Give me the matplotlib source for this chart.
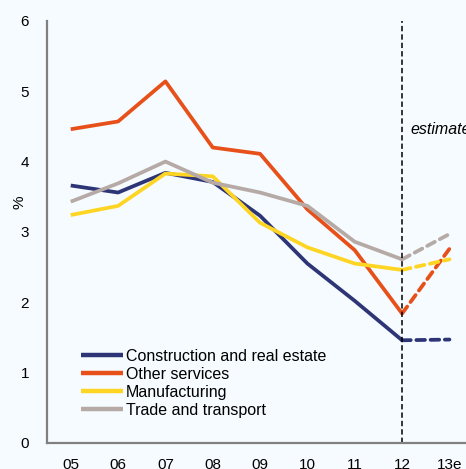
import matplotlib
matplotlib.use("Agg")
import matplotlib.pyplot as plt

years = ["05", "06", "07", "08", "09", "10", "11", "12", "13e"]
construction = [3.66, 3.56, 3.84, 3.71, 3.23, 2.55, 2.02, 1.46, 1.47]
other_services = [4.46, 4.57, 5.14, 4.20, 4.11, 3.32, 2.74, 1.84, 2.76]
manufacturing = [3.24, 3.37, 3.83, 3.79, 3.13, 2.78, 2.55, 2.46, 2.61]
trade_transport = [3.43, 3.69, 4.00, 3.70, 3.56, 3.37, 2.86, 2.61, 2.97]

series = [
    ("Construction and real estate", construction, "#2e3576"),
    ("Other services", other_services, "#e8501a"),
    ("Manufacturing", manufacturing, "#ffd523"),
    ("Trade and transport", trade_transport, "#b5aaa5"),
]

plt.rcParams["font.family"] = ["Liberation Sans", "DejaVu Sans"]
bg = "#f5fbfe"
fig = plt.figure(figsize=(4.66, 4.69), dpi=100, facecolor=bg)
ax = fig.add_axes([0.101, 0.0555, 0.899, 0.9], facecolor=bg)

x = list(range(len(years)))
split = 7
for label, vals, color in series:
    ax.plot(x[:split + 1], vals[:split + 1], color=color, lw=2.7, label=label,
            solid_capstyle="butt")
    ax.plot(x[split:], vals[split:], color=color, lw=2.7, ls=(0, (2.3, 1.5)),
            dash_capstyle="round")

ax.axvline(split, color="black", lw=1.1, ls=(0, (3.5, 2)))
ax.text(split + 0.17, 4.45, "estimate", style="italic", fontsize=11.5,
        va="center", ha="left", clip_on=False)

ax.set_xlim(-0.5, 8.35)
ax.set_ylim(0, 6)
ax.set_xticks(x)
ax.set_xticklabels(years)
ax.set_yticks(range(0, 7))
ax.tick_params(axis="both", length=0, labelsize=11)
ax.tick_params(axis="x", pad=11)
ax.tick_params(axis="y", pad=13)
ax.set_ylabel("%", fontsize=11)
ax.yaxis.set_label_coords(-0.048, 0.57)

for s in ["top", "right"]:
    ax.spines[s].set_visible(False)
for s in ["left", "bottom"]:
    ax.spines[s].set_color("#808080")
    ax.spines[s].set_linewidth(1.6)

handles, labels = ax.get_legend_handles_labels()
leg = ax.legend(handles, labels, loc="lower left", bbox_to_anchor=(0.066, 0.045),
                frameon=False, fontsize=11.5, handlelength=2.6,
                handletextpad=0.2, labelspacing=0.18, borderaxespad=0)
for h in leg.get_lines():
    h.set_linewidth(3.2)

fig.savefig("out.png", dpi=100, facecolor=bg)
